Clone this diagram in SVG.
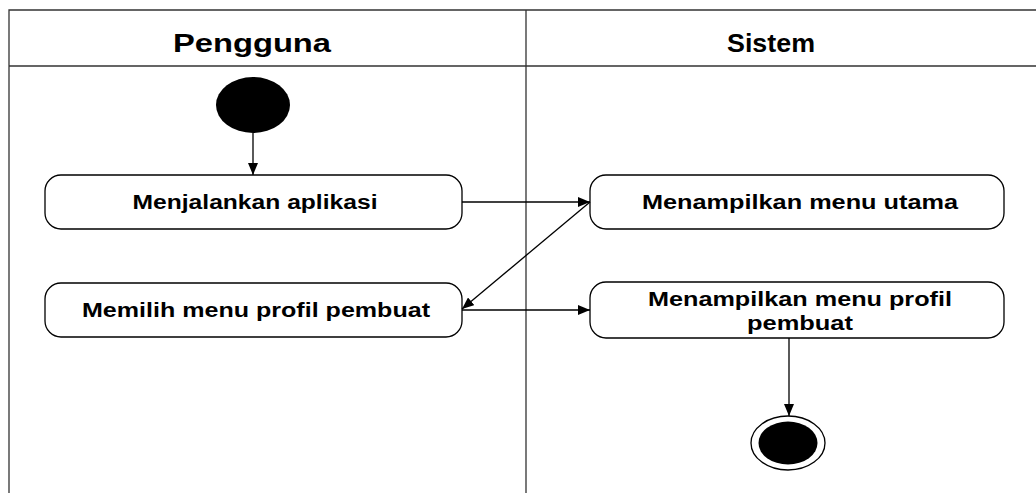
<svg xmlns="http://www.w3.org/2000/svg" width="1036" height="493" viewBox="0 0 1036 493">
  <style>
    .lane { fill: none; stroke: #333; stroke-width: 1.3; }
    .act { fill: #fff; stroke: #000; stroke-width: 1.3; }
    .hdr { font-family: "Liberation Sans", Arial, sans-serif; font-weight: bold; font-size: 25px; fill: #000; text-anchor: middle; }
    .lbl { font-family: "Liberation Sans", Arial, sans-serif; font-weight: bold; font-size: 19.5px; fill: #000; text-anchor: middle; }
    .flow { fill: none; stroke: #000; stroke-width: 1.3; marker-end: url(#arrow); }
  </style>
  <defs>
    <marker id="arrow" viewBox="0 0 12 10" refX="12" refY="5" markerWidth="12" markerHeight="10" markerUnits="userSpaceOnUse" orient="auto">
      <path d="M0,0 L12,5 L0,10 Z" fill="#000"/>
    </marker>
  </defs>
  <rect width="1036" height="493" fill="#fff"/>

  <!-- swimlanes -->
  <g id="lanes">
    <path class="lane" d="M9,493 V10 H1040 M9,66 H1040 M526,10 V493"/>
    <text class="hdr" x="252" y="52" textLength="158" lengthAdjust="spacingAndGlyphs">Pengguna</text>
    <text class="hdr" x="771" y="52" textLength="88" lengthAdjust="spacingAndGlyphs">Sistem</text>
  </g>

  <g id="start">
    <ellipse cx="253" cy="105" rx="37" ry="28" fill="#000"/>
  </g>

  <g id="menjalankan">
    <rect class="act" x="45" y="175" width="417" height="54" rx="16"/>
    <text class="lbl" x="255" y="209" textLength="245" lengthAdjust="spacingAndGlyphs">Menjalankan aplikasi</text>
  </g>

  <g id="memilih">
    <rect class="act" x="45" y="283" width="417" height="54" rx="16"/>
    <text class="lbl" x="256" y="317" textLength="348" lengthAdjust="spacingAndGlyphs">Memilih menu profil pembuat</text>
  </g>

  <g id="menu-utama">
    <rect class="act" x="590" y="175" width="414" height="54" rx="16"/>
    <text class="lbl" x="800" y="209" textLength="316" lengthAdjust="spacingAndGlyphs">Menampilkan menu utama</text>
  </g>

  <g id="menu-profil">
    <rect class="act" x="590" y="282" width="414" height="56" rx="16"/>
    <text class="lbl" x="800" y="306" textLength="304" lengthAdjust="spacingAndGlyphs">Menampilkan menu profil</text>
    <text class="lbl" x="800" y="330" textLength="106" lengthAdjust="spacingAndGlyphs">pembuat</text>
  </g>

  <g id="end">
    <ellipse cx="788" cy="443" rx="37" ry="27" fill="#fff" stroke="#000" stroke-width="1.3"/>
    <ellipse cx="788" cy="443" rx="29.5" ry="21.5" fill="#000"/>
  </g>

  <g id="connectors">
    <path class="flow" d="M253,133 V175"/>
    <path class="flow" d="M462,202 H590"/>
    <path class="flow" d="M590,202 L462,309"/>
    <path class="flow" d="M462,310 H590"/>
    <path class="flow" d="M789,338 V416"/>
  </g>
</svg>
